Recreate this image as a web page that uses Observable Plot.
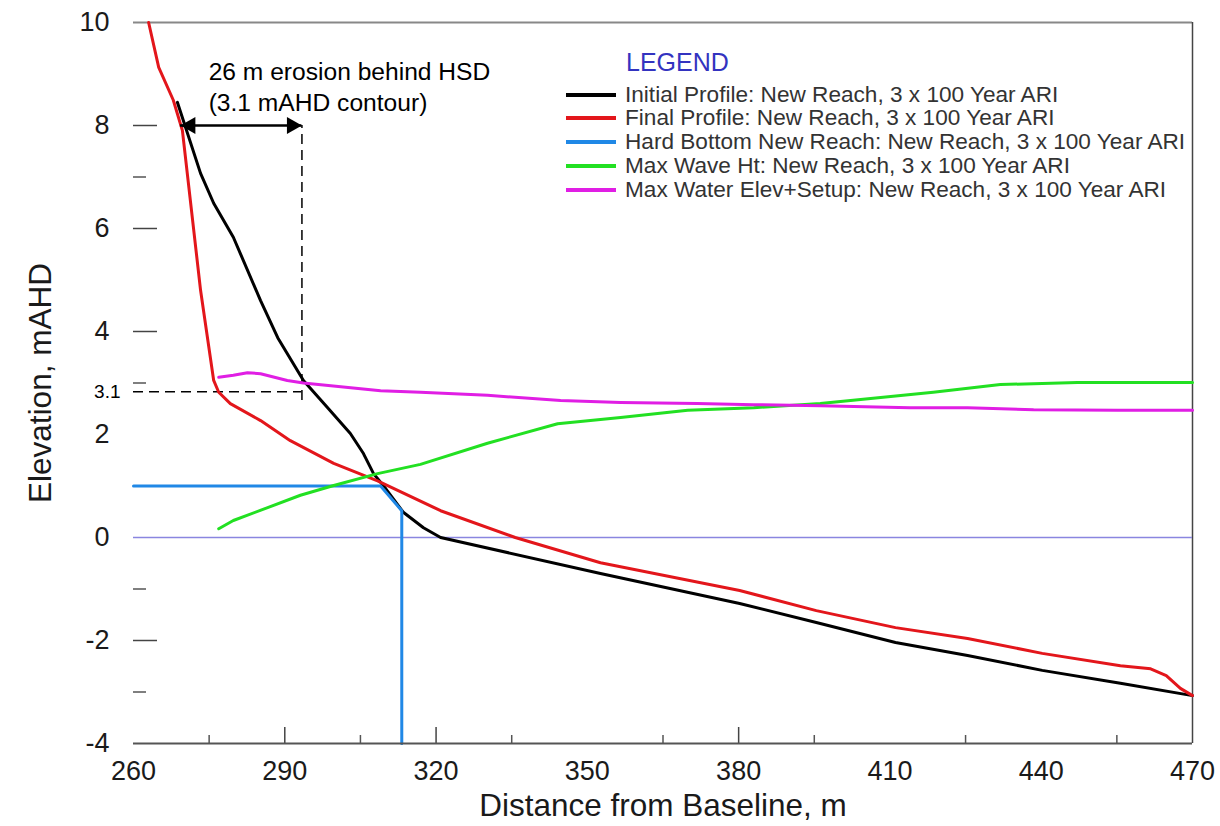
<!DOCTYPE html>
<html>
<head>
<meta charset="utf-8">
<script src="https://cdn.jsdelivr.net/npm/d3@7"></script>
<script src="https://cdn.jsdelivr.net/npm/@observablehq/plot@0.6"></script>
<style>
  html, body { margin: 0; padding: 0; background: #fff; }
  #wrap { position: relative; width: 1220px; height: 826px; font-family: "Liberation Sans", Arial, sans-serif; }
  #legend { position: absolute; left: 0; top: 0; width: 1220px; height: 826px; pointer-events: none; }
  .lg-title { position: absolute; left: 626px; top: 47px; font-size: 25px; color: #3333c0; line-height: 30px; }
  .lg-row { position: absolute; left: 566px; height: 24px; display: flex; align-items: center; font-size: 22.6px; color: #333; white-space: nowrap; }
  .lg-row .sw { width: 50px; height: 4px; margin-right: 9px; }
</style>
</head>
<body>
<div id="wrap"><div id="legend"></div></div>
<script>
// ---- Data ----
const initialX = [268.7, 273.3, 275.9, 279.8, 285.2, 288.6, 293.7, 298.5, 303.0, 305.6, 307.6, 309.6, 313.5, 317.5, 320.9, 352.6, 380.2, 395.4, 411.1, 425.4, 440.2, 455.7, 470];
const initialY = [8.45, 7.07, 6.49, 5.83, 4.6, 3.88, 3.05, 2.52, 2.02, 1.63, 1.24, 1.0, 0.49, 0.19, 0.0, -0.70, -1.28, -1.65, -2.04, -2.29, -2.58, -2.83, -3.07];

const finalX = [263.0, 265.0, 267.9, 269.7, 273.3, 275.9, 276.9, 279.2, 285.2, 291.1, 299.7, 308.4, 320.9, 335.7, 352.6, 380.2, 395.4, 411.1, 425.4, 440.2, 455.7, 461.7, 464.8, 467.6, 470];
const finalY = [10, 9.13, 8.49, 7.9, 4.8, 3.05, 2.82, 2.6, 2.27, 1.88, 1.44, 1.1, 0.52, 0.0, -0.49, -1.03, -1.42, -1.75, -1.96, -2.25, -2.49, -2.55, -2.68, -2.93, -3.07];

const hardX = [260, 309.0, 313.2, 313.2];
const hardY = [1.0, 1.0, 0.52, -4];

const waveX = [276.9, 279.8, 286.6, 293.1, 299.7, 308.4, 316.9, 330.2, 344.1, 356.6, 369.9, 383.0, 396.2, 402.2, 418.6, 431.9, 447.2, 470];
const waveY = [0.17, 0.33, 0.58, 0.82, 1.01, 1.24, 1.42, 1.83, 2.21, 2.33, 2.47, 2.52, 2.60, 2.66, 2.82, 2.97, 3.01, 3.01];

const waterX = [276.9, 279.8, 282.6, 285.2, 290.5, 293.7, 309.0, 316.9, 330.2, 344.7, 356.6, 371.8, 383.0, 396.2, 414.0, 425.4, 438.5, 455.1, 470];
const waterY = [3.11, 3.15, 3.20, 3.18, 3.05, 3.00, 2.85, 2.82, 2.76, 2.66, 2.62, 2.60, 2.58, 2.56, 2.52, 2.52, 2.48, 2.47, 2.47];

const seriesNames = [
  "Initial Profile: New Reach, 3 x 100 Year ARI",
  "Final Profile: New Reach, 3 x 100 Year ARI",
  "Hard Bottom New Reach: New Reach, 3 x 100 Year ARI",
  "Max Wave Ht: New Reach, 3 x 100 Year ARI",
  "Max Water Elev+Setup: New Reach, 3 x 100 Year ARI"
];
const seriesColors = ["#000000", "#e3161b", "#2088e6", "#22e022", "#e01ee4"];

const xTickLabels = [260, 290, 320, 350, 380, 410, 440, 470];
const yTickLabels = [10, 8, 6, 4, 2, 0, -2, -4];
const xMajorTicks = [290, 320, 380];
const xMinorTicks = [275, 305, 335, 365, 395, 425, 455];
const yMajorTicks = [8, 6, 4, -2];
const yMinorTicks = [7, 3, -1, -3];

// annotation values
const arrowX = [269.3, 293.4];
const arrowY = 8;
const contourY = 2.83;
const contourLabel = "3.1";
const dashBottom = 2.66;
const noteLines = ["26 m erosion behind HSD", "(3.1 mAHD contour)"];
const noteX = 274.9;
const noteY = [9.03, 8.43];

const xTitle = "Distance from Baseline, m";
const yTitle = "Elevation, mAHD";

// ---- Build ----
const toRows = (xs, ys) => xs.map((x, i) => ({x, y: ys[i]}));
const series = [
  toRows(initialX, initialY),
  toRows(finalX, finalY),
  toRows(hardX, hardY),
  toRows(waveX, waveY),
  toRows(waterX, waterY)
];

const font = "'Liberation Sans', Arial, sans-serif";

const chart = Plot.plot({
  width: 1220,
  height: 826,
  marginLeft: 133,
  marginRight: 28,
  marginTop: 22,
  marginBottom: 83,
  style: {fontFamily: font, background: "#fff", color: "#111"},
  x: {domain: [260, 470]},
  y: {domain: [-4, 10]},
  marks: [
    // frame lines
    Plot.ruleY([10], {stroke: "#888", strokeWidth: 2}),
    Plot.ruleX([470], {stroke: "#444", strokeWidth: 1.5}),
    Plot.ruleY([0], {stroke: "#8a86e0", strokeWidth: 1.5}),
    // inward ticks
    Plot.axisY({ticks: yMajorTicks, tickSize: -24, text: null, stroke: "#444", strokeWidth: 1.5, label: null}),
    Plot.axisY({ticks: yMinorTicks, tickSize: -13, text: null, stroke: "#555", strokeWidth: 1.5, label: null}),
    Plot.axisX({ticks: xMajorTicks, tickSize: -16, text: null, stroke: "#444", strokeWidth: 1.5, label: null}),
    Plot.axisX({ticks: xMinorTicks, tickSize: -8, text: null, stroke: "#555", strokeWidth: 1.5, label: null}),
    // tick labels
    Plot.axisY({ticks: yTickLabels, tickSize: 0, tickPadding: 24, tickFormat: d => String(d), fontSize: 27, label: null, fill: "#1a1a1a"}),
    Plot.axisX({ticks: xTickLabels, tickSize: 0, tickPadding: 17, tickFormat: d => String(d), fontSize: 27, label: null, fill: "#1a1a1a"}),
    // axis titles
    Plot.text([xTitle], {text: d => d, frameAnchor: "bottom", lineAnchor: "middle", textAnchor: "middle", dy: 62, fontSize: 31.5, fill: "#1a1a1a"}),
    Plot.text([yTitle], {text: d => d, frameAnchor: "left", lineAnchor: "middle", textAnchor: "middle", dx: -93, rotate: -90, fontSize: 31.5, fill: "#1a1a1a"}),
    // annotation dashed lines
    Plot.ruleY([contourY], {x1: 260, x2: arrowX[1], stroke: "#000", strokeWidth: 1.5, strokeDasharray: "10,6"}),
    Plot.ruleX([arrowX[1]], {y1: dashBottom, y2: arrowY, stroke: "#000", strokeWidth: 1.5, strokeDasharray: "10,6"}),
    Plot.text([contourLabel], {x: 260, y: contourY, text: d => d, dx: -13, textAnchor: "end", fontSize: 19, fill: "#000"}),
    // series
    ...series.map((rows, i) => Plot.line(rows, {x: "x", y: "y", stroke: seriesColors[i], strokeWidth: 3, strokeLinejoin: "round", strokeLinecap: "round"})),
    // bottom axis line on top
    Plot.ruleY([-4], {stroke: "#555", strokeWidth: 2}),
    // erosion arrow
    Plot.ruleY([arrowY], {x1: arrowX[0], x2: arrowX[1], stroke: "#000", strokeWidth: 2.5}),
    Plot.dot([arrowX[1]], {x: d => d, y: arrowY, symbol: "triangle", r: 6.4, rotate: 90, dx: -10, fill: "#000", stroke: null}),
    Plot.dot([arrowX[0]], {x: d => d, y: arrowY, symbol: "triangle", r: 6.4, rotate: -90, dx: 10, fill: "#000", stroke: null}),
    Plot.text(noteLines, {x: noteX, y: (d, i) => noteY[i], text: d => d, textAnchor: "start", fontSize: 24.6, fill: "#000"})
  ]
});

document.getElementById("wrap").prepend(chart);

// legend overlay
const lg = document.getElementById("legend");
const t = document.createElement("div");
t.className = "lg-title";
t.textContent = "LEGEND";
lg.appendChild(t);
const rowTops = [83, 106, 130, 154, 178];
seriesNames.forEach((name, i) => {
  const r = document.createElement("div");
  r.className = "lg-row";
  r.style.top = rowTops[i] + "px";
  const sw = document.createElement("span");
  sw.className = "sw";
  sw.style.background = seriesColors[i];
  const tx = document.createElement("span");
  tx.textContent = name;
  r.appendChild(sw);
  r.appendChild(tx);
  lg.appendChild(r);
});
</script>
</body>
</html>
